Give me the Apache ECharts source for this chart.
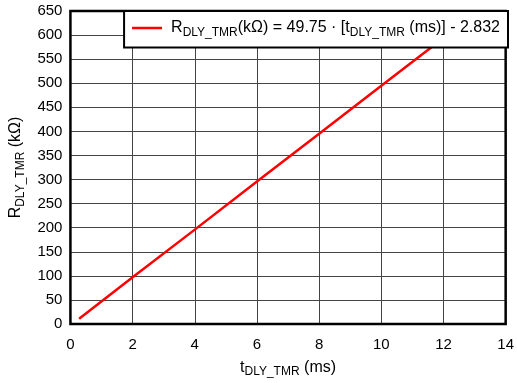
<!DOCTYPE html>
<html><head><meta charset="utf-8">
<script src="https://cdn.jsdelivr.net/npm/echarts@6/dist/echarts.min.js"></script>
<style>html,body{margin:0;padding:0;background:#fff}#c{width:517px;height:383px}</style>
</head><body><div id="c"></div>
<script>
var tValues = [0.28, 2, 4, 6, 8, 10, 12, 12.6];
var rValues = [11, 97, 196, 296, 395, 495, 594, 624];
var xTicks = {min: 0, max: 14, interval: 2};
var yTicks = {min: 0, max: 650, interval: 50};
var seriesName = 'R_DLY_TMR';

var FONT = 'Liberation Sans, Arial, sans-serif';
var chart = echarts.init(document.getElementById('c'));
var rich = {
  m: {fontFamily: FONT, fontSize: 16, color: '#000'},
  s: {fontFamily: FONT, fontSize: 12, color: '#000', padding: [9, 0, 0, 0]},
  g: {width: 4}
};
chart.setOption({
  animation: false,
  grid: {left: 70, right: 10, top: 11, bottom: 54, show: true, borderColor: '#000', borderWidth: 2.5, z: 3},
  xAxis: {
    type: 'value', min: xTicks.min, max: xTicks.max, interval: xTicks.interval,
    name: '{m|t}{s|DLY_TMR}{m| (ms)}', nameLocation: 'middle', nameGap: 33,
    nameTextStyle: {rich: rich},
    axisLine: {show: false}, axisTick: {show: false},
    axisLabel: {fontFamily: FONT, fontSize: 15, color: '#000', margin: 13},
    splitLine: {show: true, lineStyle: {color: '#444', width: 1}}
  },
  yAxis: {
    type: 'value', min: yTicks.min, max: yTicks.max, interval: yTicks.interval,
    name: '{m|R}{s|DLY_TMR}{m| (kΩ)}', nameLocation: 'middle', nameGap: 39, nameRotate: 90,
    nameTextStyle: {rich: rich},
    axisLine: {show: false}, axisTick: {show: false},
    axisLabel: {fontFamily: FONT, fontSize: 15, color: '#000', margin: 8},
    splitLine: {show: true, lineStyle: {color: '#444', width: 1}}
  },
  legend: {
    show: true, right: 9, top: 11, z: 10,
    backgroundColor: '#fff', borderColor: '#000', borderWidth: 2,
    padding: [9, 8, 9, 8], itemWidth: 30, itemHeight: 2.5, itemGap: 0,
    icon: 'rect',
    data: [seriesName],
    formatter: function () { return '{g|}{m|R}{s|DLY_TMR}{m|(kΩ) = 49.75 · [t}{s|DLY_TMR}{m| (ms)] - 2.832}'; },
    textStyle: {rich: rich}
  },
  series: [{
    name: seriesName, type: 'line', showSymbol: false, symbol: 'none',
    lineStyle: {color: '#ff0000', width: 2.5}, itemStyle: {color: '#ff0000'},
    data: tValues.map(function (t, i) { return [t, rValues[i]]; })
  }]
});
</script></body></html>
